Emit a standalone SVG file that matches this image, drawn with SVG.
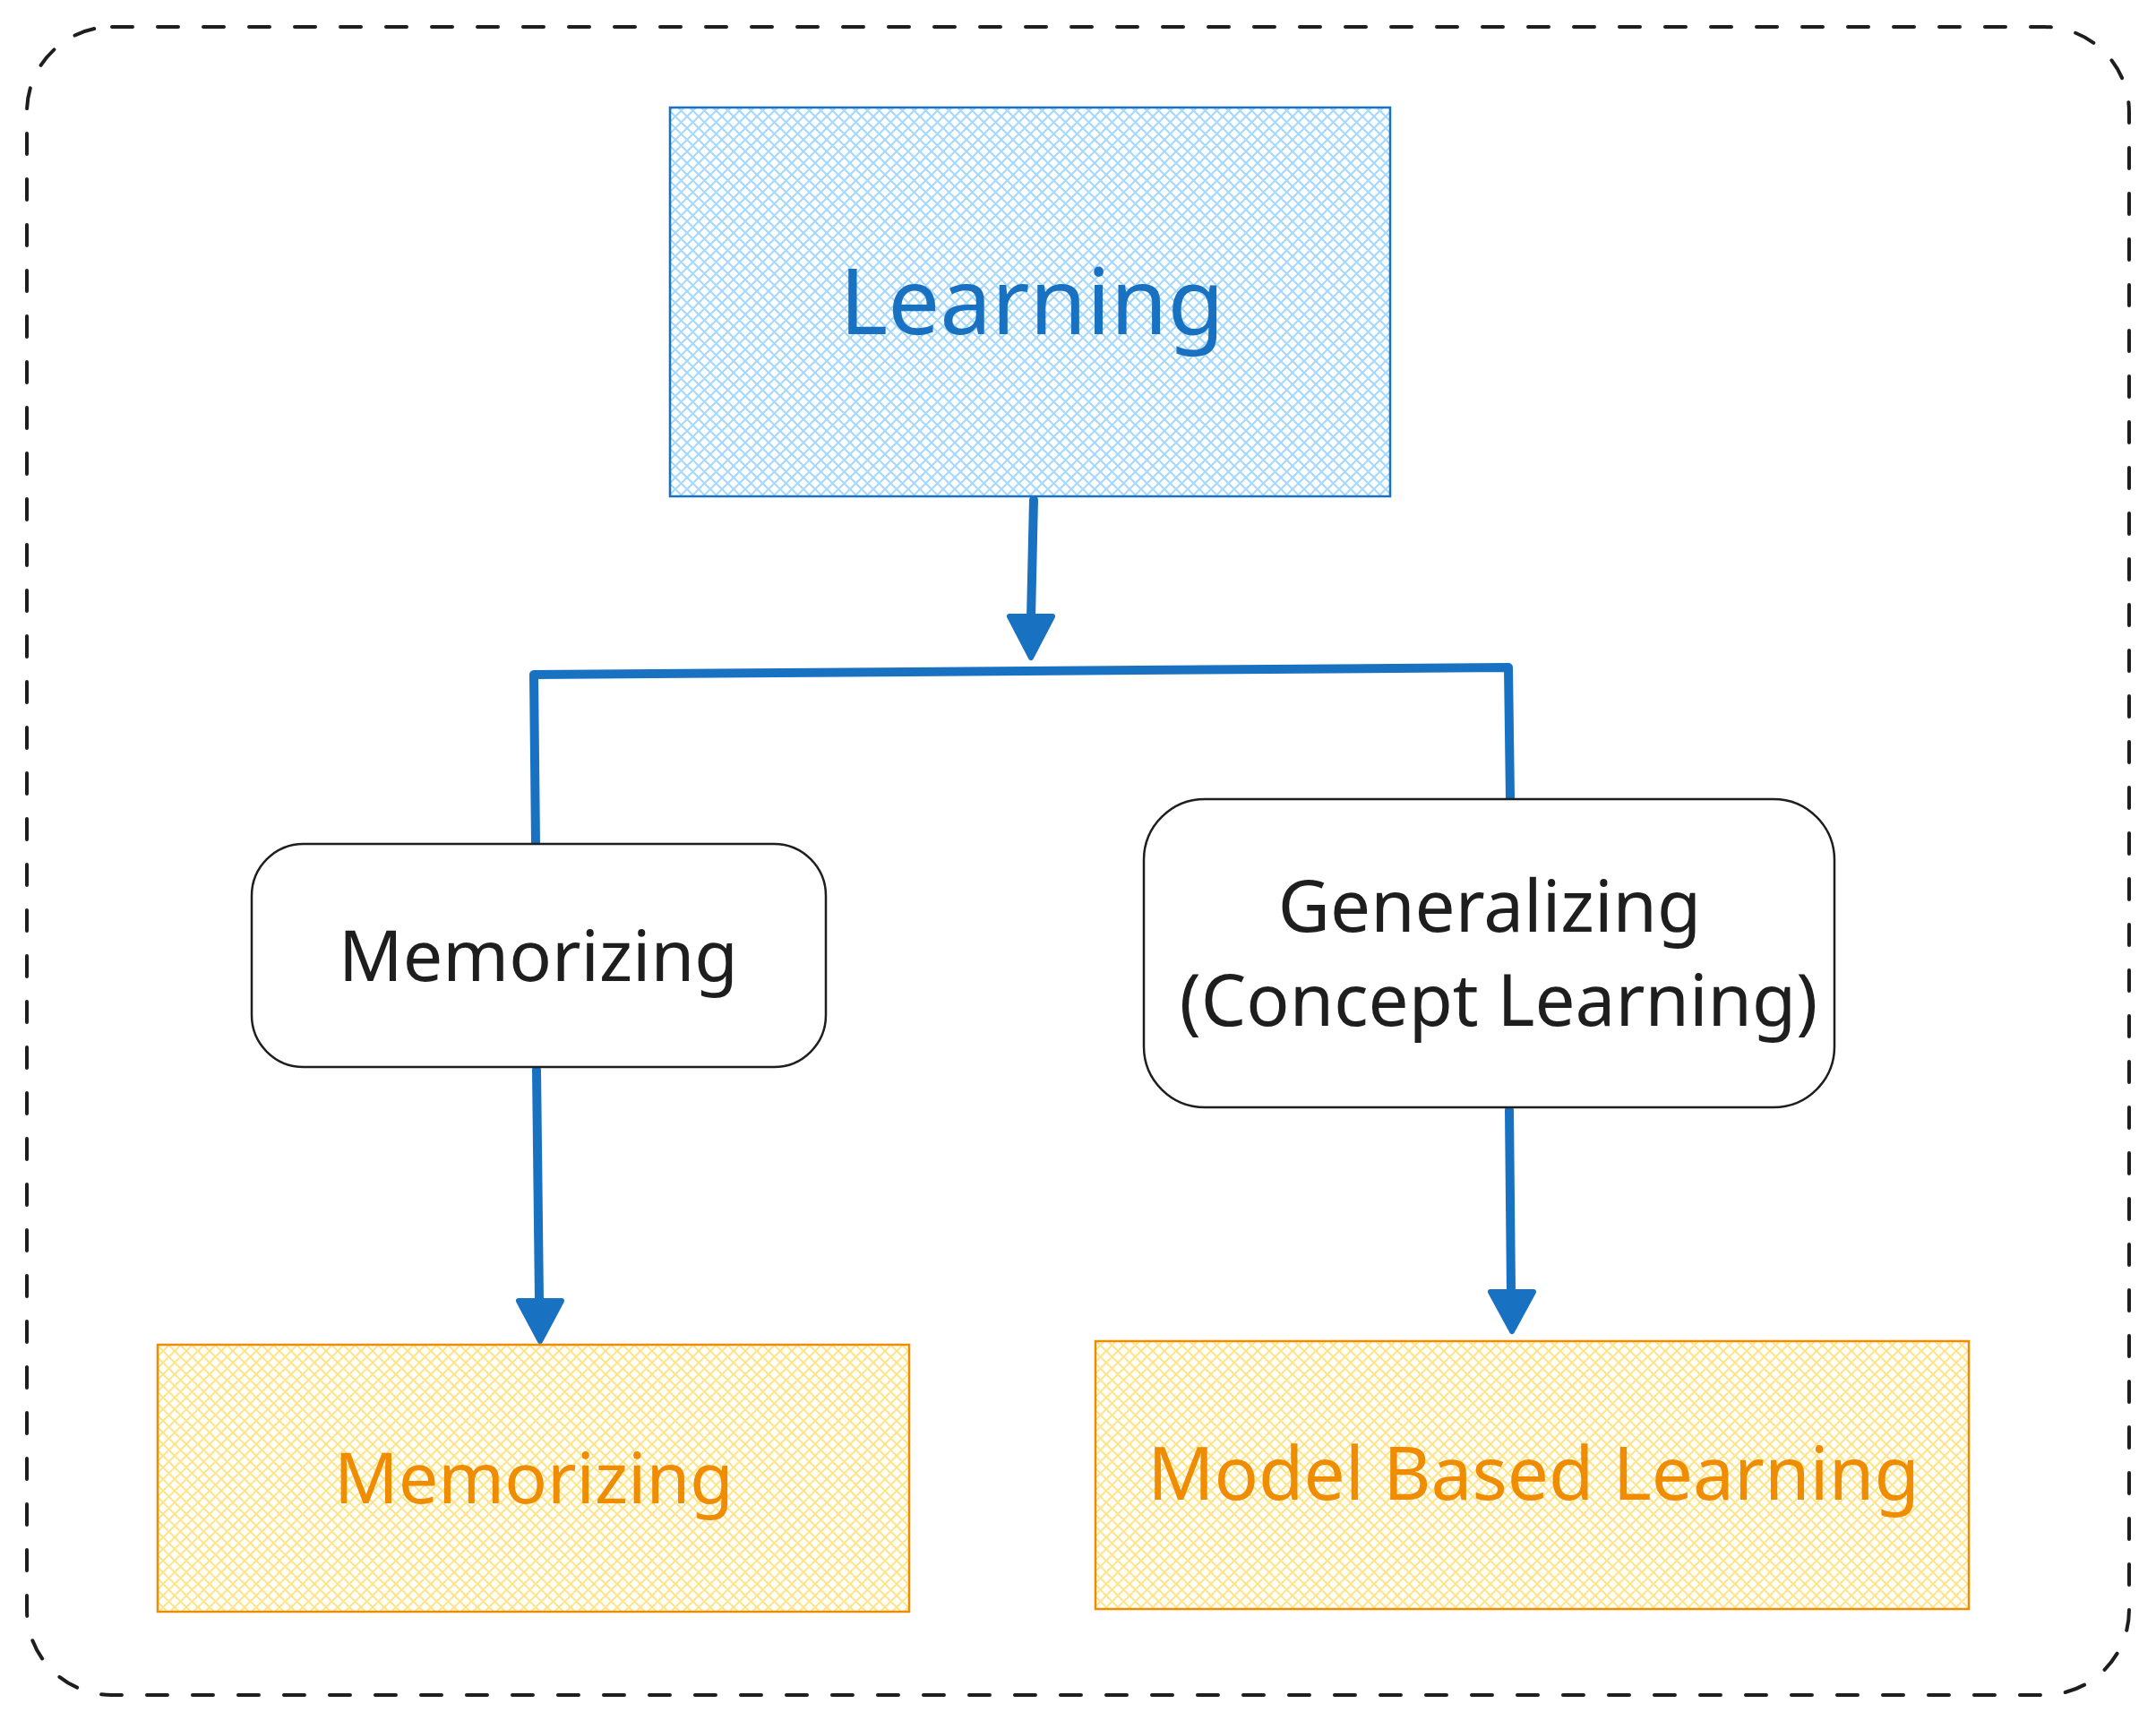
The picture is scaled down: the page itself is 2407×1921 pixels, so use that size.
<svg xmlns="http://www.w3.org/2000/svg" width="2407" height="1921" viewBox="0 0 2407 1921">
  <defs>
    <pattern id="hatchBlue" patternUnits="userSpaceOnUse" width="13" height="13">
      <path d="M0,0 L13,13 M13,0 L0,13 M-1,12 L1,14 M12,-1 L14,1 M-1,1 L1,-1 M12,14 L14,12" stroke="#a5d8ff" stroke-width="2.1" fill="none"/>
    </pattern>
    <pattern id="hatchYellow" patternUnits="userSpaceOnUse" width="13" height="13">
      <path d="M0,0 L13,13 M13,0 L0,13 M-1,12 L1,14 M12,-1 L14,1 M-1,1 L1,-1 M12,14 L14,12" stroke="#ffe58a" stroke-width="2.1" fill="none"/>
    </pattern>
  </defs>
  <style>
    .frame { fill: none; stroke: #1e1e1e; stroke-width: 4; stroke-dasharray: 23 28; stroke-linecap: round; }
    .blue-box { fill: url(#hatchBlue); stroke: #1971c2; stroke-width: 2.5; }
    .orange-box { fill: url(#hatchYellow); stroke: #f08c00; stroke-width: 2.5; }
    .round-box { fill: #ffffff; stroke: #1e1e1e; stroke-width: 2.5; }
    .conn { fill: none; stroke: #1971c2; stroke-width: 10; stroke-linecap: round; stroke-linejoin: round; }
    .head { fill: #1971c2; stroke: #1971c2; stroke-width: 6; stroke-linejoin: round; }
    text { font-family: "Noto Sans", "Open Sans", sans-serif; text-anchor: middle; }
    .t-blue { fill: #1971c2; font-size: 103px; }
    .t-black { fill: #1e1e1e; font-size: 79px; }
    .t-gen { fill: #1e1e1e; font-size: 80px; }
    .t-orange { fill: #f08c00; font-size: 79px; }
    .t-orange-l { fill: #f08c00; font-size: 82px; }
  </style>

  <rect class="frame" x="30" y="30" width="2347" height="1862" rx="95" ry="95"/>

  <g id="connectors">
    <path class="conn" d="M1154,558 L1151,690"/>
    <polygon class="head" points="1127,688 1175,688 1151,734"/>
    <path class="conn" d="M598,942 L596,753 L1684,745 L1686,892"/>
    <path class="conn" d="M599,1194 L602,1452"/>
    <polygon class="head" points="579,1452 627,1452 603,1497"/>
    <path class="conn" d="M1685,1239 L1687,1442"/>
    <polygon class="head" points="1664,1442 1712,1442 1688,1486"/>
  </g>

  <g id="node-learning">
    <rect class="blue-box" x="748" y="120" width="804" height="434"/>
    <text class="t-blue" x="1152" y="373">Learning</text>
  </g>

  <g id="node-memorizing">
    <rect class="round-box" x="281" y="942" width="641" height="249" rx="58" ry="58"/>
    <text class="t-black" x="601" y="1095">Memorizing</text>
  </g>

  <g id="node-generalizing">
    <rect class="round-box" x="1277" y="892" width="771" height="344" rx="68" ry="68"/>
    <text class="t-gen" x="1663" y="1040">Generalizing</text>
    <text class="t-gen" x="1673" y="1145">(Concept Learning)</text>
  </g>

  <g id="node-memorizing-result">
    <rect class="orange-box" x="176" y="1501" width="839" height="298"/>
    <text class="t-orange" x="596" y="1678">Memorizing</text>
  </g>

  <g id="node-model-based">
    <rect class="orange-box" x="1223" y="1497" width="975" height="299"/>
    <text class="t-orange-l" x="1712" y="1674">Model Based Learning</text>
  </g>
</svg>
